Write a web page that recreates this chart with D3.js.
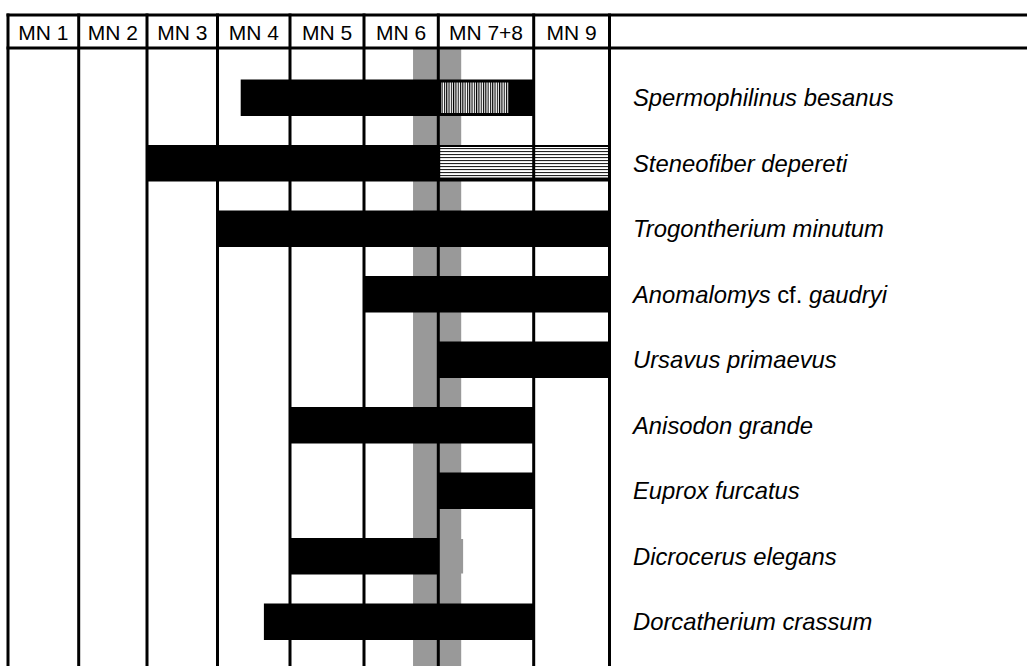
<!DOCTYPE html>
<html>
<head>
<meta charset="utf-8">
<script src="https://cdn.jsdelivr.net/npm/d3@7"></script>
<style>
  html, body { margin: 0; padding: 0; background: #fff; }
  svg { display: block; }
</style>
</head>
<body>
<svg id="chart" width="1027" height="666"></svg>
<script>
// Mammal zones (MN units), column 0 = MN 1
const zones = ["MN 1", "MN 2", "MN 3", "MN 4", "MN 5", "MN 6", "MN 7+8", "MN 9"];
// Column boundaries on the page (MN 7+8 is a wider column)
const zoneEdges = [8, 78.7, 147, 217.5, 290, 364, 438.3, 533.7, 609.5];

// Taxa, with the first and last zone of their recorded range
const taxa = [
  "Spermophilinus besanus",
  "Steneofiber depereti",
  "Trogontherium minutum",
  "Anomalomys cf. gaudryi",
  "Ursavus primaevus",
  "Anisodon grande",
  "Euprox furcatus",
  "Dicrocerus elegans",
  "Dorcatherium crassum"
];
const rangeStart = [3.32, 2, 3, 5, 6, 4, 6, 4, 3.64];
const rangeEnd   = [7,    8, 8, 8, 8, 7, 7, 6, 7];

// Uncertain / partial parts of ranges
const partTaxon = ["Spermophilinus besanus", "Steneofiber depereti", "Dicrocerus elegans"];
const partFrom  = [6.03, 6.02, 6.0];
const partTo    = [6.74, 8.0, 6.26];
const partKind  = ["vertical", "horizontal", "grey"];

// Grey time band across MN 6 / MN 7+8
const bandFrom = 5.66;
const bandTo = 6.24;

const W = 1027, H = 666;
const frameTop = 15, headBottom = 48, frameLeft = 8;
const svg = d3.select("#chart");

const x = d3.scaleLinear()
  .domain(d3.range(zoneEdges.length))
  .range(zoneEdges);

const y = d3.scaleBand()
  .domain(taxa)
  .range([65, 65 + 65.5 * taxa.length])
  .paddingInner(0.44)
  .paddingOuter(0.22);

const barH = 36.5;
const rowMid = t => y(t) + y.bandwidth() / 2;

// hatch patterns
const defs = svg.append("defs");
const pv = defs.append("pattern").attr("id", "hatch-v")
  .attr("patternUnits", "userSpaceOnUse").attr("width", 2.3).attr("height", 10);
pv.append("rect").attr("width", 2.3).attr("height", 10).attr("fill", "#fff");
pv.append("rect").attr("width", 1.1).attr("height", 10).attr("fill", "#000");
const ph = defs.append("pattern").attr("id", "hatch-h")
  .attr("patternUnits", "userSpaceOnUse").attr("width", 10).attr("height", 3)
  .attr("y", 1);
ph.append("rect").attr("width", 10).attr("height", 3).attr("fill", "#fff");
ph.append("rect").attr("width", 10).attr("height", 1.1).attr("fill", "#222");

svg.append("rect").attr("width", W).attr("height", H).attr("fill", "#fff");

// grey band
svg.append("rect")
  .attr("x", x(bandFrom)).attr("y", headBottom)
  .attr("width", x(bandTo) - x(bandFrom)).attr("height", H - headBottom)
  .attr("fill", "#999999");

// range bars
svg.append("g").selectAll("rect").data(taxa).join("rect")
  .attr("x", (d, i) => x(rangeStart[i]))
  .attr("width", (d, i) => x(rangeEnd[i]) - x(rangeStart[i]))
  .attr("y", d => rowMid(d) - barH / 2)
  .attr("height", barH)
  .attr("fill", "#000");

// partial ranges
const parts = partTaxon.map((t, i) => ({ t, a: partFrom[i], b: partTo[i], k: partKind[i] }));
svg.append("g").selectAll("rect").data(parts).join("rect")
  .attr("x", d => x(d.a))
  .attr("width", d => x(d.b) - x(d.a))
  .attr("y", d => d.k === "vertical" ? rowMid(d.t) - barH / 2 + 3
                : d.k === "horizontal" ? rowMid(d.t) - barH / 2 + 2
                : rowMid(d.t) - barH / 2 + 1)
  .attr("height", d => d.k === "vertical" ? barH - 6
                : d.k === "horizontal" ? barH - 6
                : barH - 2)
  .attr("fill", d => d.k === "vertical" ? "url(#hatch-v)"
                : d.k === "horizontal" ? "url(#hatch-h)" : "#999999");

// grid: zone dividers, frame, header lines
svg.append("g").selectAll("line").data(zoneEdges).join("line")
  .attr("x1", d => d).attr("x2", d => d)
  .attr("y1", frameTop - 1.5).attr("y2", H)
  .attr("stroke", "#000").attr("stroke-width", 3);

svg.append("g").selectAll("line").data([frameTop, headBottom]).join("line")
  .attr("x1", frameLeft - 1.5).attr("x2", W)
  .attr("y1", d => d).attr("y2", d => d)
  .attr("stroke", "#000").attr("stroke-width", 3);

// zone header labels
svg.append("g").selectAll("text").data(zones).join("text")
  .attr("x", (d, i) => (x(i) + x(i + 1)) / 2)
  .attr("y", 39.5)
  .attr("text-anchor", "middle")
  .attr("font-family", "'Liberation Sans', Arial, sans-serif")
  .attr("font-size", 21)
  .attr("fill", "#000")
  .text(d => d);

// taxon names (genus/species italic, qualifiers upright)
const names = svg.append("g").selectAll("text").data(taxa).join("text")
  .attr("x", 633)
  .attr("y", d => rowMid(d) + 8.5)
  .attr("font-family", "'Liberation Sans', Arial, sans-serif")
  .attr("font-size", 23.8)
  .attr("fill", "#000");

names.each(function (d) {
  const el = d3.select(this);
  d.split(" ").forEach((w, i) => {
    el.append("tspan")
      .attr("font-style", w === "cf." ? "normal" : "italic")
      .text((i ? " " : "") + w);
  });
});
</script>
</body>
</html>
